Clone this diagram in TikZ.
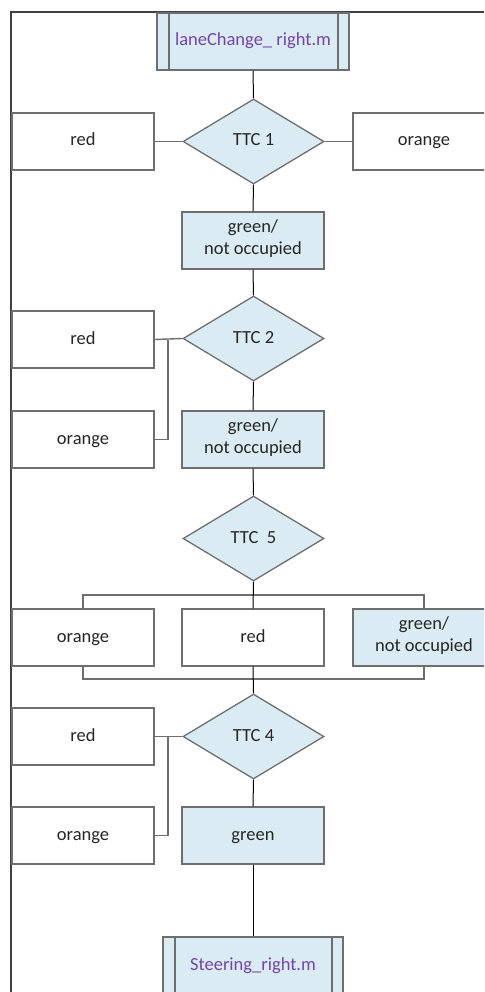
\documentclass[tikz,border=0pt]{standalone}
\usepackage{fontspec}
\setsansfont{Carlito}
\usetikzlibrary{shapes.geometric}
\definecolor{cblue}{HTML}{DAEBF3}
\definecolor{cpurple}{HTML}{7445A6}
\definecolor{cgrey}{HTML}{6E6E6E}
\definecolor{cdark}{HTML}{262626}
\tikzset{
  every picture/.style={font=\sffamily\fontsize{18.5}{22.5}\selectfont, line width=1.2pt},
  box/.style={draw=cgrey, fill=#1, text=cdark, align=center, inner sep=0pt, minimum width=142pt, minimum height=57pt, line width=1.3pt, execute at begin node=\strut},
  box/.default=white,
  dec/.style={diamond, draw=cgrey, fill=cblue, text=cdark, aspect=1.66, inner sep=0pt, minimum width=141pt, minimum height=85pt, line width=1.3pt, execute at begin node=\strut},
  main/.style={draw=black, line width=1pt},
  side/.style={draw=cgrey, line width=1.4pt},
}

\begin{document}
\begin{tikzpicture}[x=1pt, y=-1pt,
  sub/.style={box=cblue, text=cpurple, minimum width=#1, path picture={
    \draw[cgrey, line width=1.3pt] ([xshift=12pt]path picture bounding box.north west) -- ([xshift=12pt]path picture bounding box.south west);
    \draw[cgrey, line width=1.3pt] ([xshift=-11pt]path picture bounding box.north east) -- ([xshift=-11pt]path picture bounding box.south east);}},
  frame/.style={draw=black!75, line width=1.8pt}]
  \useasboundingbox (0,0) rectangle (484,992);
  \clip (0,0) rectangle (484,992);
  \draw[frame] (11,992) -- (11,12) -- (484,12);
  % ---------- start and TTC 1 ----------
  \node[sub=192pt] (start) at (253,41.5) {laneChange\_ right.m};
  \node[dec] (ttc1) at (253.5,141.5) {TTC 1};
  \node[box] (red1) at (83,141.5) {red};
  \node[box] (orange1) at (424,141.5) {orange};
  \node[box=cblue] (free1) at (253,240.5) {green/\\not occupied};
  \draw[main] (start.south) -- (ttc1.north);
  \draw[side] (red1.east) -- (ttc1.west);
  \draw[side] (ttc1.east) -- (orange1.west);
  \draw[main] (ttc1.south) -- (free1.north);
  % ---------- TTC 2 ----------
  \node[dec] (ttc2) at (253.5,338.5) {TTC 2};
  \node[box] (red2) at (83,339.5) {red};
  \node[box] (orange2) at (83,439.5) {orange};
  \node[box=cblue] (free2) at (253,439.5) {green/\\not occupied};
  \coordinate (j2) at (168,339.5);
  \draw[main] (free1.south) -- (ttc2.north);
  \draw[side] (red2.east) -- (ttc2.west);
  \draw[side] (j2) |- (orange2.east);
  \draw[main] (ttc2.south) -- (free2.north);
  % ---------- TTC 5 ----------
  \node[dec] (ttc5) at (253.5,538.5) {TTC\ \ 5};
  \node[box] (orange3) at (83,637.5) {orange};
  \node[box] (red3) at (253,637.5) {red};
  \node[box=cblue] (free3) at (424,637.5) {green/\\not occupied};
  \coordinate (b5top) at (253,595);
  \coordinate (b5bot) at (253,679);
  \draw[main] (free2.south) -- (ttc5.north);
  \draw[side] (orange3.north) |- (b5top) -| (free3.north);
  \draw[side] (orange3.south) |- (b5bot) -| (free3.south);
  \draw[main] (ttc5.south) -- (red3.north);
  % ---------- TTC 4 and steering ----------
  \node[dec] (ttc4) at (253.5,736.5) {TTC 4};
  \node[box] (red4) at (83,736.5) {red};
  \node[box] (orange4) at (83,835.5) {orange};
  \node[box=cblue] (green4) at (253,835.5) {green};
  \node[sub=180pt] (steer) at (253,965.5) {Steering\_right.m};
  \coordinate (j4) at (168,736.5);
  \draw[main] (red3.south) -- (ttc4.north);
  \draw[side] (red4.east) -- (ttc4.west);
  \draw[side] (j4) |- (orange4.east);
  \draw[main] (ttc4.south) -- (green4.north);
  \draw[main] (green4.south) -- (steer.north);
\end{tikzpicture}
\end{document}
